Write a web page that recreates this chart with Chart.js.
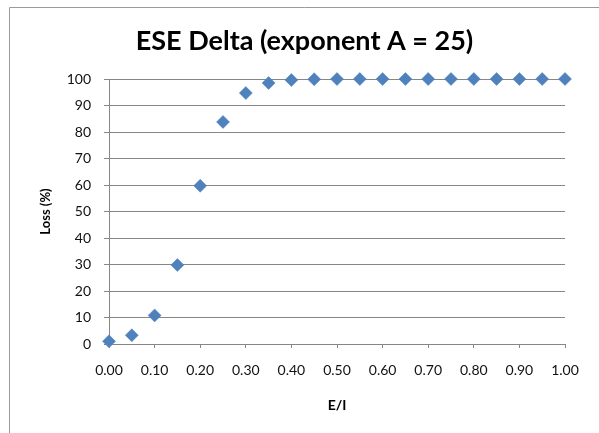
<!DOCTYPE html>
<html>
<head>
<meta charset="utf-8">
<script src="https://cdn.jsdelivr.net/npm/chart.js@4/dist/chart.umd.min.js"></script>
<style>
  html, body { margin: 0; padding: 0; background: #fff; }
  #wrap { position: relative; width: 599px; height: 433px; }
</style>
</head>
<body>
<div id="wrap"><canvas id="chart" width="599" height="433"></canvas></div>
<script>
// E/I ratio (x) and loss percentage (y)
const ratios = [0.00, 0.05, 0.10, 0.15, 0.20, 0.25, 0.30, 0.35, 0.40, 0.45, 0.50,
                0.55, 0.60, 0.65, 0.70, 0.75, 0.80, 0.85, 0.90, 0.95, 1.00];
const lossPct = [1.0, 3.3, 10.8, 29.8, 59.7, 83.8, 94.7, 98.5, 99.6, 99.9, 100,
                 100, 100, 100, 100, 100, 100, 100, 100, 100, 100];
const chartTitle = 'ESE Delta (exponent A = 25)';
const xTitle = 'E/I';
const yTitle = 'Loss (%)';

const FONT = 'Lato, "Open Sans", sans-serif';
const GRID = '#868686';

// Frame around the chart object and the heading text
const framePlugin = {
  id: 'frame',
  beforeDraw(chart) {
    const ctx = chart.ctx;
    ctx.save();
    ctx.fillStyle = '#fff';
    ctx.fillRect(0, 0, chart.width, chart.height);
    ctx.strokeStyle = '#9a9a9a';
    ctx.lineWidth = 1;
    ctx.beginPath();
    ctx.moveTo(9.5, chart.height);
    ctx.lineTo(9.5, 7.5);
    ctx.lineTo(chart.width, 7.5);
    ctx.stroke();
    ctx.fillStyle = '#000';
    ctx.font = 'bold 27px ' + FONT;
    ctx.textAlign = 'center';
    ctx.textBaseline = 'alphabetic';
    ctx.fillText(chartTitle, 304.5, 50);
    ctx.restore();
  }
};

new Chart(document.getElementById('chart'), {
  type: 'scatter',
  data: {
    datasets: [{
      data: ratios.map((r, i) => ({ x: r, y: lossPct[i] })),
      pointStyle: 'rectRot',
      pointRadius: 6.5,
      pointHoverRadius: 6.5,
      backgroundColor: '#4F81BD',
      borderColor: '#4F81BD',
      borderWidth: 0.5,
      showLine: false,
      clip: false
    }]
  },
  options: {
    responsive: false,
    animation: false,
    events: [],
    layout: { padding: { left: 0, top: 79, right: 34, bottom: 0 } },
    plugins: {
      legend: { display: false },
      title: { display: false },
      tooltip: { enabled: false }
    },
    scales: {
      x: {
        type: 'linear',
        min: 0,
        max: 1,
        ticks: {
          stepSize: 0.1,
          padding: 14,
          color: '#111',
          font: { family: FONT, size: 14 },
          maxRotation: 0,
          callback: v => Number(v).toFixed(2)
        },
        grid: { drawOnChartArea: false, drawTicks: true, tickLength: 4, color: GRID, lineWidth: 1 },
        border: { display: true, color: GRID, width: 1 },
        title: {
          display: true,
          text: xTitle,
          color: '#000',
          font: { family: FONT, size: 14, weight: 'bold' },
          padding: { top: 0, bottom: 19 }
        },
        afterFit(scale) { scale.height = 89; }
      },
      y: {
        min: 0,
        max: 100,
        ticks: {
          stepSize: 10,
          padding: 13,
          color: '#111',
          font: { family: FONT, size: 14 }
        },
        grid: { color: GRID, lineWidth: 1, drawTicks: true, tickLength: 5 },
        border: { display: true, color: GRID, width: 1 },
        title: {
          display: true,
          text: yTitle,
          color: '#000',
          font: { family: FONT, size: 13, weight: 'bold' },
          padding: { top: 38, bottom: 0 }
        },
        afterFit(scale) { scale.width = 109; }
      }
    }
  },
  plugins: [framePlugin]
});
</script>
</body>
</html>
